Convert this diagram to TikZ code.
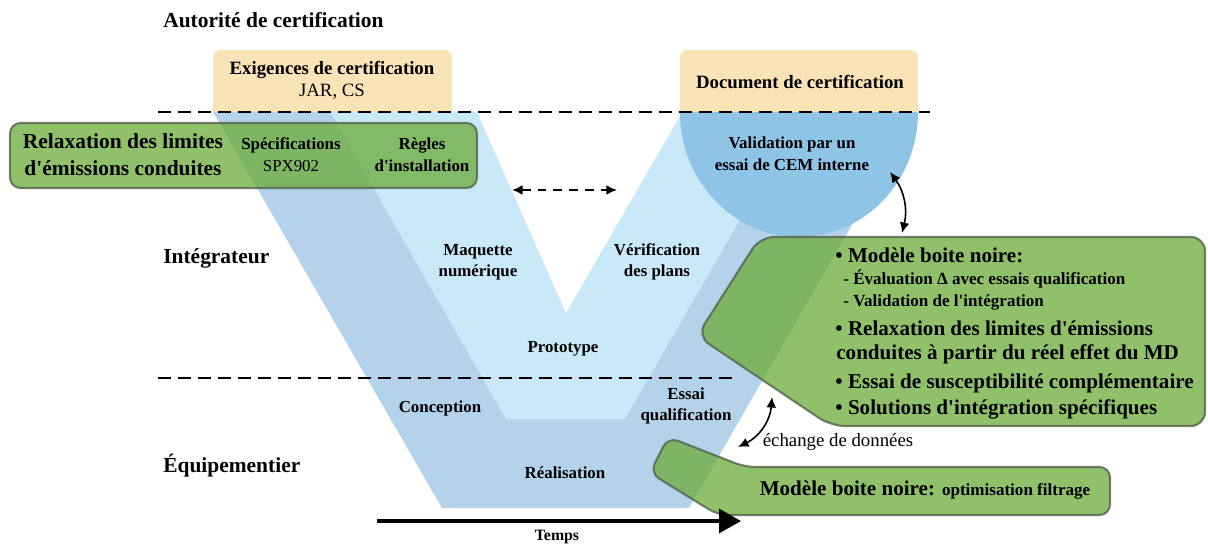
\documentclass[tikz,border=0pt]{standalone}
\usepackage{fontspec}
\setmainfont{Liberation Serif}[Ligatures=TeXOff]
\usetikzlibrary{arrows.meta,positioning}

\definecolor{bandblue}{RGB}{180,211,234}
\definecolor{innerblue}{RGB}{202,233,248}
\definecolor{valblue}{RGB}{142,197,230}
\definecolor{certyellow}{RGB}{250,228,183}
\definecolor{boxgreen}{RGB}{108,171,56}
\definecolor{boxedge}{RGB}{85,98,78}

\tikzset{
  lane/.style={anchor=west, inner sep=0pt, font=\fontsize{12.2}{14}\selectfont\bfseries},
  phase/.style={align=center, inner sep=0pt, font=\fontsize{9.6}{12}\selectfont\bfseries},
  cert/.style={align=center, inner sep=0pt, font=\fontsize{10.7}{12.5}\selectfont},
  greenbox/.style={fill=boxgreen, fill opacity=0.75, draw=boxedge, draw opacity=0.8,
    line width=1.2pt, rounded corners=6pt},
  bigline/.style={anchor=west, inner sep=0pt, font=\fontsize{12}{14}\selectfont\bfseries},
  smallline/.style={anchor=west, inner sep=0pt, font=\fontsize{9.7}{12}\selectfont\bfseries},
  sep/.style={line width=1.4pt, dash pattern=on 7.4pt off 4pt},
  link/.style={{Latex[length=6pt,width=5.5pt]}-{Latex[length=6pt,width=5.5pt]}, line width=0.9pt},
}

\begin{document}
\begin{tikzpicture}[x=0.02cm, y=-0.02cm]
  \useasboundingbox (0,0) rectangle (1208,544);
  % V cycle
  \fill[bandblue] (213,112) -- (442,508) -- (689,508) -- (917,112) -- cycle;
  \fill[innerblue] (330,112) -- (506,419) -- (625,419) -- (802,112) -- cycle;
  \fill[white] (477,112) -- (566,313) -- (682,112) -- cycle;
  \fill[valblue] (680,112) arc[start angle=180, end angle=0, x radius=119, y radius=125] -- cycle;
  % certification boxes
  \fill[certyellow] (213,112) [rounded corners=4pt] -- (213,50) -- (452,50) [sharp corners] -- (452,112) -- cycle;
  \fill[certyellow] (680,112) [rounded corners=4pt] -- (680,50) -- (918,50) [sharp corners] -- (918,112) -- cycle;
  \node[cert] (exig) at (332,80) {\bfseries Exigences de certification\\JAR, CS};
  \node[cert, font=\fontsize{10.7}{12.5}\selectfont\bfseries] (docu) at (800,82) {Document de certification};
  % lanes
  \draw[sep] (158,112) -- (930,112);
  \draw[sep] (158,378) -- (735,378);
  \node[lane] (auto) at (163,20) {Autorité de certification};
  \node[lane] (integ) at (163,258) {Intégrateur};
  \node[lane] (equip) at (163,466) {Équipementier};
  % green boxes
  \draw[greenbox] (10,123) rectangle (477,188);
  \draw[greenbox, rounded corners=8pt] (760,237) -- (1205,237) -- (1205,426) -- (831,426) -- (697,336) -- cycle;
  \draw[greenbox] (668,437) -- (745,467) -- (1110,467) -- (1110,515) -- (718,515) -- (650,473) -- cycle;
  % left box texts
  \node[align=center, inner sep=0pt, font=\fontsize{12.2}{15.3}\selectfont\bfseries] (relax) at (123,155)
    {Relaxation des limites\\d'émissions conduites};
  \node[phase, font=\fontsize{9.6}{12.5}\selectfont] (spec) at (291,155) {\bfseries Spécifications\\SPX902};
  \node[phase, font=\fontsize{9.6}{12.5}\selectfont\bfseries] (regl) at (422,155) {Règles\\d'installation};
  % V labels
  \node[phase, font=\fontsize{9.6}{12.5}\selectfont\bfseries] (valid) at (792,154) {Validation par un\\essai de CEM interne};
  \node[phase] (maq) at (478,262) {Maquette\\numérique};
  \node[phase] (verif) at (657,262) {Vérification\\des plans};
  \node[phase] (proto) at (563,349) {Prototype};
  \node[phase] (conc) at (440,408) {Conception};
  \node[phase] (essai) at (686,406) {Essai\\qualification};
  \node[phase] (real) at (565,473) {Réalisation};
  % integrator box texts
  \node[bigline] (l1) at (835,255) {• Modèle boite noire:};
  \node[smallline] (l2) at (843,279) {- Évaluation Δ avec essais qualification};
  \node[smallline] (l3) at (843,302) {- Validation de l'intégration};
  \node[bigline] (l4) at (835,328) {• Relaxation des limites d'émissions};
  \node[bigline] (l5) at (836,354) {conduites à partir du réel effet du MD};
  \node[bigline] (l6) at (835,383) {• Essai de susceptibilité complémentaire};
  \node[bigline] (l7) at (835,409) {• Solutions d'intégration spécifiques};
  % equipment box text
  \node[inner sep=0pt, font=\fontsize{12}{14}\selectfont\bfseries] (bbox) at (925,490)
    {Modèle boite noire: {\fontsize{9.7}{12}\selectfont optimisation filtrage}};
  \node[inner sep=0pt, font=\fontsize{10.7}{13}\selectfont] (xchg) at (838,442) {échange de données};
  % arrows
  \coordinate (vd1) at (512,190);
  \coordinate (vd2) at (617,190);
  \draw[link, dash pattern=on 5pt off 4pt] (vd1) -- (vd2);
  \coordinate (c1) at (890,172);
  \coordinate (c2) at (902,233);
  \draw[link] (c1) to[bend left=25] (c2);
  \coordinate (e1) at (772,397);
  \coordinate (e2) at (738,447);
  \draw[link] (e1) to[bend left=30] (e2);
  % time
  \coordinate (t0) at (377,521);
  \coordinate (t1) at (741,521);
  \draw[line width=2.3pt, -{Triangle[length=12.5pt, width=13.5pt]}] (t0) -- (t1);
  \node[inner sep=0pt, font=\fontsize{9}{11}\selectfont\bfseries] (temps) at (557,537) {Temps};
\end{tikzpicture}
\end{document}
